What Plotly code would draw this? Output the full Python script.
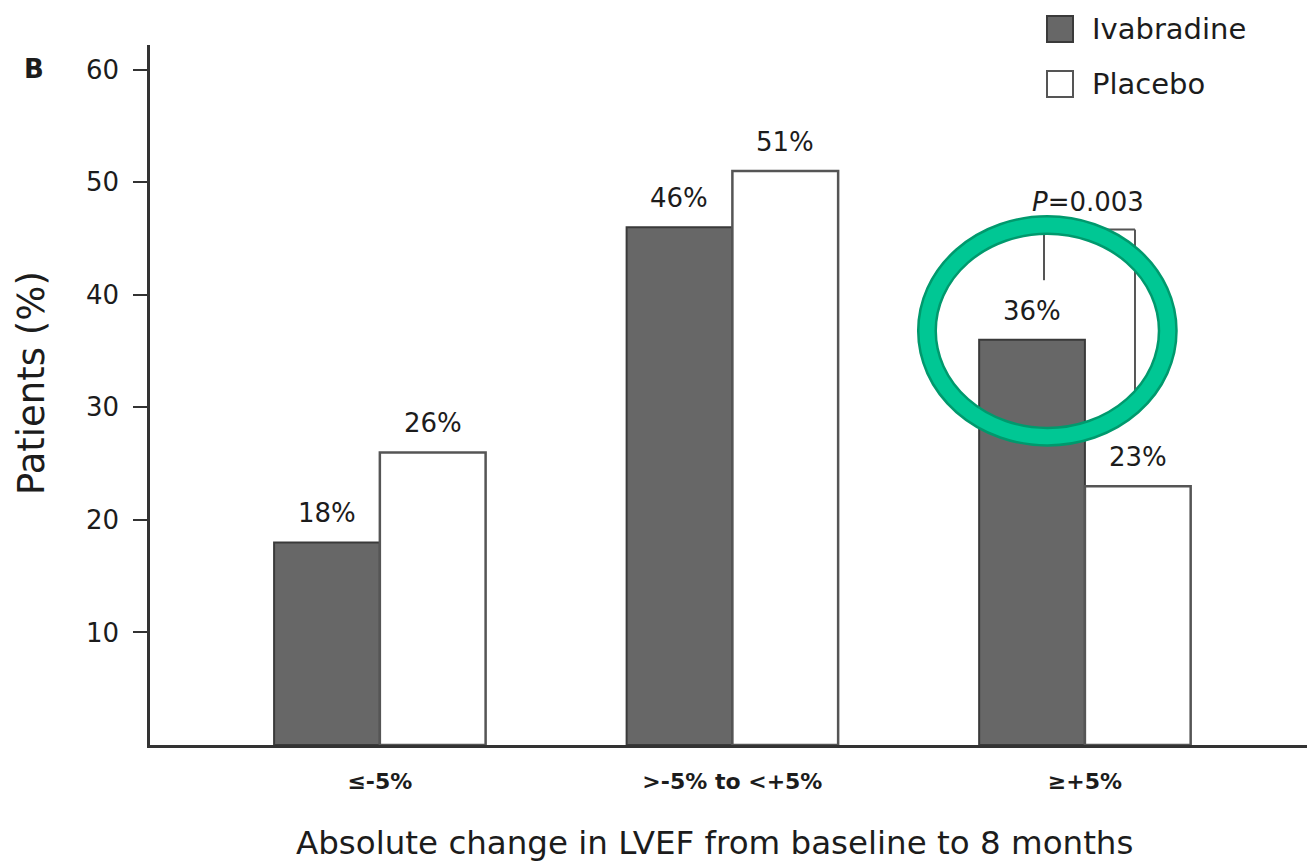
import plotly.graph_objects as go

# Share of patients by absolute change in LVEF, baseline to 8 months
categories = ["≤-5%", ">-5% to <+5%", "≥+5%"]
ivabradine = [18, 46, 36]
placebo = [26, 51, 23]
series_names = ["Ivabradine", "Placebo"]
y_ticks = [10, 20, 30, 40, 50, 60]

FONT = "DejaVu Sans"
INK = "#1c1c1c"
DARK_FILL = "#676767"
GREEN = "#00C794"
GREEN_EDGE = "#00996D"

fig = go.Figure()
fig.add_trace(go.Bar(
    x=categories, y=ivabradine, name=series_names[0],
    marker=dict(color=DARK_FILL, line=dict(color="#3a3a3a", width=2)),
    showlegend=False,
))
fig.add_trace(go.Bar(
    x=categories, y=placebo, name=series_names[1],
    marker=dict(color="#ffffff", line=dict(color="#555555", width=2.5)),
    showlegend=False,
))

# Percentage labels above each bar
for vals, side in ((ivabradine, -1), (placebo, 1)):
    for c, v in zip(categories, vals):
        fig.add_annotation(
            x=c, y=v, xshift=side * 52.9, yshift=29,
            text=f"{v}%", showarrow=False, xanchor="center", yanchor="middle",
            font=dict(family=FONT, size=26, color=INK),
        )

# Significance bracket for the ≥+5% group
i2 = categories.index("≥+5%")
xl, xr = i2 - 0.116, i2 + 0.142
y_top = 45.8
bracket = dict(color="#555555", width=2)
fig.add_shape(type="line", xref="x", yref="y", x0=xl, x1=xl, y0=41.3, y1=y_top, line=bracket)
fig.add_shape(type="line", xref="x", yref="y", x0=xl, x1=xr, y0=y_top, y1=y_top, line=bracket)
fig.add_shape(type="line", xref="x", yref="y", x0=xr, x1=xr, y0=y_top, y1=30.5, line=bracket)
fig.add_annotation(
    x=i2 + 0.009, y=48.25, text="<i>P</i>=0.003", showarrow=False,
    font=dict(family=FONT, size=26, color=INK), xanchor="center", yanchor="middle",
)

# Highlight ring around the 36% bar
ring = dict(type="circle", xref="x", yref="y", x0=1.552, x1=2.235, y0=27.4, y1=46.2,
            fillcolor="rgba(0,0,0,0)", layer="above")
fig.add_shape(**ring, line=dict(color=GREEN_EDGE, width=20))
fig.add_shape(**ring, line=dict(color=GREEN, width=15))

# Legend drawn as boxes with labels
def px_x(px):
    return (px - 150) / 1157

def px_y(py):
    return (745 - py) / 700

legend_fills = [(DARK_FILL, "#3a3a3a"), ("#ffffff", "#555555")]
for k, (name, (fill, edge)) in enumerate(zip(series_names, legend_fills)):
    cy = 29 + k * 55
    fig.add_shape(type="rect", xref="paper", yref="paper",
                  x0=px_x(1047), x1=px_x(1073), y0=px_y(cy + 13), y1=px_y(cy - 13),
                  fillcolor=fill, line=dict(color=edge, width=2))
    fig.add_annotation(xref="paper", yref="paper", x=px_x(1090), y=px_y(cy),
                       text=name, showarrow=False, xanchor="left", yanchor="middle",
                       font=dict(family=FONT, size=29, color=INK))

# Panel letter and axis titles
fig.add_annotation(xref="paper", yref="paper", x=px_x(34), y=px_y(69), text="<b>B</b>",
                   showarrow=False, xanchor="center", yanchor="middle",
                   font=dict(family=FONT, size=26, color=INK))
fig.add_annotation(xref="paper", yref="paper", x=px_x(31), y=px_y(383),
                   text="Patients (%)", textangle=-90, showarrow=False,
                   xanchor="center", yanchor="middle",
                   font=dict(family=FONT, size=37, color=INK))
fig.add_annotation(xref="paper", yref="paper", x=px_x(714), y=px_y(843),
                   text="Absolute change in LVEF from baseline to 8 months",
                   showarrow=False, xanchor="center", yanchor="middle",
                   font=dict(family=FONT, size=32.5, color=INK))

fig.update_layout(
    width=1307, height=865,
    margin=dict(l=150, r=0, t=45, b=120),
    paper_bgcolor="white", plot_bgcolor="white",
    barmode="group", bargap=0.4, bargroupgap=0,
    font=dict(family=FONT, color=INK),
    xaxis=dict(
        type="category", range=[-0.652, 2.63],
        showline=True, linecolor="#333333", linewidth=2.5,
        ticks="", showgrid=False, zeroline=False,
        tickfont=dict(family=FONT, size=22, color=INK, weight="bold"),
        ticklabelstandoff=15,
    ),
    yaxis=dict(
        range=[0, 62.2], tickvals=y_ticks,
        showline=True, linecolor="#333333", linewidth=2.5,
        ticks="outside", ticklen=14, tickwidth=2, tickcolor="#333333",
        showgrid=False, zeroline=False,
        tickfont=dict(family=FONT, size=26, color=INK),
        ticklabelstandoff=9,
    ),
)

fig.write_html("out.html")
